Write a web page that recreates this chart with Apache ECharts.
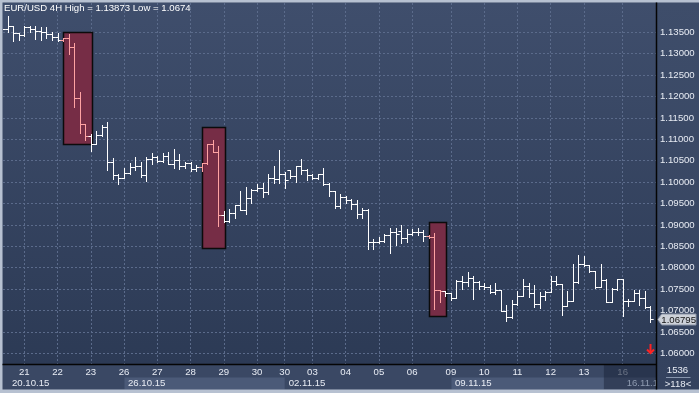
<!DOCTYPE html>
<html>
<head>
<meta charset="utf-8">
<script src="https://cdn.jsdelivr.net/npm/echarts@6/dist/echarts.min.js"></script>
<style>
html,body{margin:0;padding:0;background:#3a4864;}
#c{width:699px;height:393px;}
</style>
</head>
<body>
<div id="c"></div>
<script>
// ---------------- DATA ----------------
const symbol = 'EUR/USD';
const timeframe = '4H';
const opens = [1.13562,1.13578,1.13640,1.13484,1.13438,1.13617,1.13578,1.13539,1.13516,1.13453,
1.13383,1.13321,1.13360,1.13150,1.11958,1.11358,1.11070,1.10890,1.11101,1.11295,
1.10478,1.10166,1.10104,1.10205,1.10361,1.10384,1.10166,1.10532,1.10579,1.10493,
1.10618,1.10431,1.10517,1.10384,1.10447,1.10306,1.10345,1.10439,1.10883,1.10704,
1.09232,1.09091,1.09268,1.09455,1.09353,1.09634,1.09805,1.09852,1.09774,1.10085,
1.10078,1.10195,1.10272,1.10140,1.10374,1.10272,1.10163,1.10101,1.10195,1.09945,
1.09790,1.09439,1.09649,1.09571,1.09494,1.09244,1.09346,1.08606,1.08606,1.08621,
1.08762,1.08839,1.08855,1.08684,1.08777,1.08839,1.08839,1.08730,1.08723,1.07469,
1.07453,1.07400,1.07292,1.07697,1.07658,1.07760,1.07666,1.07565,1.07542,1.07425,
1.07479,1.06997,1.06848,1.07160,1.07347,1.07565,1.07409,1.07160,1.07331,1.07432,
1.07682,1.07619,1.07113,1.07215,1.07666,1.08094,1.08056,1.07915,1.07549,1.07721,
1.07191,1.07503,1.07736,1.07215,1.07215,1.07409,1.07292,1.07082];
const highs = [1.13617,1.13873,1.13640,1.13484,1.13640,1.13640,1.13640,1.13625,1.13625,1.13516,
1.13477,1.13375,1.13453,1.13243,1.12114,1.11358,1.11116,1.11194,1.11334,1.11412,
1.10571,1.10182,1.10322,1.10439,1.10579,1.10478,1.10579,1.10672,1.10618,1.10672,
1.10712,1.10774,1.10649,1.10478,1.10462,1.10400,1.10454,1.10883,1.10984,1.10836,
1.09325,1.09361,1.09455,1.09790,1.09883,1.09828,1.09961,1.09977,1.10179,1.10374,
1.10740,1.10241,1.10272,1.10381,1.10529,1.10296,1.10195,1.10195,1.10319,1.09984,
1.09790,1.09712,1.09673,1.09595,1.09571,1.09400,1.09361,1.08660,1.08715,1.08777,
1.08933,1.08933,1.08995,1.08894,1.08894,1.08933,1.08871,1.08762,1.08816,1.07469,
1.07453,1.07409,1.07705,1.07799,1.07900,1.07799,1.07682,1.07643,1.07604,1.07643,
1.07487,1.07137,1.07253,1.07448,1.07736,1.07643,1.07588,1.07425,1.07448,1.07799,
1.07799,1.07619,1.07448,1.08094,1.08305,1.08266,1.08071,1.07915,1.08094,1.07736,
1.07526,1.07736,1.07736,1.07269,1.07471,1.07471,1.07448,1.07098];
const lows = [1.13539,1.13516,1.13305,1.13329,1.13407,1.13500,1.13344,1.13329,1.13360,1.13329,
1.13290,1.13298,1.12994,1.11748,1.11148,1.10984,1.10727,1.10883,1.11085,1.10283,
1.10065,1.09948,1.10088,1.10189,1.10283,1.10127,1.10026,1.10415,1.10462,1.10462,
1.10415,1.10337,1.10306,1.10322,1.10260,1.10260,1.10260,1.10423,1.10696,1.08967,
1.09076,1.09073,1.09167,1.09353,1.09260,1.09517,1.09790,1.09657,1.09727,1.09984,
1.09984,1.09867,1.10101,1.10008,1.10195,1.10039,1.10062,1.10062,1.09930,1.09673,
1.09400,1.09400,1.09517,1.09361,1.09151,1.09151,1.08427,1.08442,1.08582,1.08606,
1.08349,1.08520,1.08582,1.08606,1.08762,1.08762,1.08621,1.08699,1.07025,1.07204,
1.07336,1.07253,1.07292,1.07510,1.07565,1.07269,1.07510,1.07510,1.07409,1.07386,
1.06981,1.06745,1.06825,1.07137,1.07331,1.07316,1.07082,1.07059,1.07238,1.07432,
1.07604,1.06903,1.07098,1.07215,1.07643,1.08048,1.07892,1.07526,1.07549,1.07191,
1.07191,1.07487,1.06864,1.07113,1.07215,1.07137,1.07059,1.06740];
const closes = [1.13578,1.13640,1.13484,1.13438,1.13617,1.13578,1.13539,1.13516,1.13453,1.13383,
1.13321,1.13360,1.13150,1.11958,1.11358,1.11070,1.10890,1.11101,1.11295,1.10478,
1.10166,1.10104,1.10205,1.10361,1.10384,1.10166,1.10532,1.10579,1.10493,1.10618,
1.10431,1.10517,1.10384,1.10447,1.10306,1.10345,1.10439,1.10883,1.10704,1.09232,
1.09091,1.09268,1.09455,1.09353,1.09634,1.09805,1.09852,1.09774,1.10085,1.10078,
1.10195,1.10039,1.10140,1.10374,1.10272,1.10163,1.10101,1.10195,1.09945,1.09790,
1.09439,1.09649,1.09571,1.09494,1.09244,1.09346,1.08606,1.08606,1.08621,1.08762,
1.08839,1.08793,1.08684,1.08777,1.08839,1.08839,1.08730,1.08723,1.07469,1.07453,
1.07400,1.07292,1.07697,1.07658,1.07760,1.07666,1.07565,1.07542,1.07425,1.07479,
1.06997,1.06848,1.07160,1.07347,1.07565,1.07409,1.07160,1.07331,1.07432,1.07682,
1.07619,1.07113,1.07215,1.07666,1.08094,1.08056,1.07915,1.07549,1.07721,1.07191,
1.07503,1.07736,1.07215,1.07215,1.07409,1.07292,1.07082,1.06795];
const barCount = closes.length; // 118 bars shown (>118<)

// day ticks on the time axis (bar index of the first bar of each day)
const dayTickIndex  = [4,10,16,22,28,34,40,46,51,56,62,68,74,81,87,93,99,105,112];
const dayTickLabels = ['21','22','23','26','27','28','29','30','30','03','04','05','06','09','10','11','12','13','16'];
// week row
const weekStartIndex = [0,22,51,81,112];
const weekLabels = ['20.10.15','26.10.15','02.11.15','09.11.15','16.11.15'];
const currentWeekShadeFrom = 108.6;
// price axis
const priceTickMin = 1.06, priceTickMax = 1.135, priceTickStep = 0.005;
// highlighted zones
const boxStart  = [11, 36, 77];
const boxEnd    = [16, 40, 80];
const boxTop    = [1.13500, 1.11280, 1.09061];
const boxBottom = [1.10883, 1.08453, 1.06878];
const footerCount = '1536';

// ---------------- CHART ----------------
const FONT = '"Liberation Sans", Arial, sans-serif';
const FS = 9.6;
const TXT = '#e8ecf4';
const WHITE = '#ffffff';
const PINK = '#ffa3a3';
const fmtHL = v => String(+v.toFixed(5));
const titleText = symbol + ' ' + timeframe + ' High = ' + fmtHL(Math.max(...highs)) + ' Low = ' + fmtHL(Math.min(...lows));
const inBox = i => boxStart.some((s, k) => i >= s && i < boxEnd[k]);

const ohlcData = closes.map((c, i) => [i, opens[i], highs[i], lows[i], c]);
const boxData = boxStart.map((s, k) => [s, boxEnd[k], boxTop[k], boxBottom[k]]);
const weekData = weekStartIndex.map((s, k) => [s, k < weekStartIndex.length - 1 ? weekStartIndex[k + 1] : barCount - 1, priceTickMin]);
const lastData = [[barCount - 1, closes[barCount - 1]]];

const bgGrad = new echarts.graphic.LinearGradient(0, 0, 0, 1, [
  {offset: 0, color: '#3f4e6c'}, {offset: 1, color: '#2c3a55'}
]);
const panelGrad = new echarts.graphic.LinearGradient(0, 0, 0, 1, [
  {offset: 0, color: '#3e4d6a'}, {offset: 1, color: '#34425e'}
]);

function renderBar(params, api) {
  const i = api.value(0);
  const pO = api.coord([i, api.value(1)]);
  const pH = api.coord([i, api.value(2)]);
  const pL = api.coord([i, api.value(3)]);
  const pC = api.coord([i, api.value(4)]);
  const half = api.size([1, 0])[0] / 2 + 0.4;
  const x = Math.round(pO[0]) + 0.5;
  const yo = Math.round(pO[1]) + 0.5, yc = Math.round(pC[1]) + 0.5;
  const yh = Math.round(pH[1]), yl = Math.round(pL[1]) + 1;
  const st = {stroke: inBox(i) ? PINK : WHITE, lineWidth: 1};
  return {type: 'group', children: [
    {type: 'line', shape: {x1: x, y1: yh, x2: x, y2: yl}, style: st},
    {type: 'line', shape: {x1: x - half, y1: yo, x2: x, y2: yo}, style: st},
    {type: 'line', shape: {x1: x, y1: yc, x2: x + half, y2: yc}, style: st}
  ]};
}

function renderBox(params, api) {
  const p1 = api.coord([api.value(0), api.value(2)]);
  const p2 = api.coord([api.value(1), api.value(3)]);
  const x1 = Math.round(p1[0]) + 0.5, x2 = Math.round(p2[0]) + 1.5;
  const y1 = Math.round(p1[1]) + 0.5, y2 = Math.round(p2[1]) + 0.5;
  return {type: 'rect', shape: {x: x1, y: y1, width: x2 - x1, height: y2 - y1},
    style: {fill: '#762d46', stroke: '#0b0b0b', lineWidth: 1.5}};
}

function renderWeek(params, api) {
  const cs = params.coordSys;
  const k = params.dataIndex;
  const last = k === weekStartIndex.length - 1;
  const xs = api.coord([api.value(0), api.value(2)])[0];
  const xe = (k === weekStartIndex.length - 2 || last) ? cs.x + cs.width : api.coord([api.value(1), api.value(2)])[0];
  const base = cs.y + cs.height;
  const children = [];
  if (k % 2 === 1) {
    children.push({type: 'rect', shape: {x: Math.round(xs) + 0.5, y: base + 13.5, width: xe - Math.round(xs) - 0.5, height: 12},
      style: {fill: '#4b5a78'}});
  }
  if (last) {
    const xsh = api.coord([currentWeekShadeFrom, api.value(2)])[0];
    children.push({type: 'rect', shape: {x: xsh, y: base + 1, width: cs.x + cs.width - xsh, height: 24.5},
      style: {fill: 'rgba(22,32,52,0.45)'}});
  }
  children.push({type: 'text', style: {
    text: weekLabels[k], x: Math.max(xs + 4, cs.x + 9), y: base + 19.8,
    verticalAlign: 'middle', align: 'left', fill: last ? '#8e9ab0' : TXT, font: FS + 'px ' + FONT
  }});
  return {type: 'group', children};
}

function renderLast(params, api) {
  const cs = params.coordSys;
  const p = api.coord([api.value(0), api.value(1)]);
  const xl = cs.x + cs.width + 1.7;
  const y = Math.round(p[1]) + 0.5;
  return {type: 'group', children: [
    {type: 'polygon', shape: {points: [[xl, y], [xl + 4, y - 5.5], [xl + 38.3, y - 5.5], [xl + 38.3, y + 5.5], [xl + 4, y + 5.5]]},
      style: {fill: '#cdd1d9', stroke: '#8a93a5', lineWidth: 1}},
    {type: 'text', style: {text: api.value(1).toFixed(5), x: xl + 21, y: y + 0.5, align: 'center', verticalAlign: 'middle',
      fill: '#141414', font: FS + 'px ' + FONT}}
  ]};
}

const chart = echarts.init(document.getElementById('c'), null, {renderer: 'canvas'});
chart.setOption({
  animation: false,
  backgroundColor: '#3a4864',
  title: {
    text: titleText, left: 4, top: 3.3, padding: 0,
    textStyle: {color: '#ffffff', fontSize: FS, fontWeight: 'normal', fontFamily: FONT}
  },
  grid: [
    {left: 3, right: 43, top: 3, bottom: 29, show: true, backgroundColor: bgGrad, borderWidth: 0, outerBoundsMode: 'none', containLabel: false},
    {left: 3, right: 43, top: 32.3, bottom: 39.7, show: false, outerBoundsMode: 'none', containLabel: false}
  ],
  xAxis: [
    {
      type: 'value', gridIndex: 0, min: 0.16, max: 118.01,
      axisLine: {show: false},
      axisTick: {show: false, customValues: dayTickIndex},
      axisLabel: {
        customValues: dayTickIndex, margin: 3.7, fontSize: FS, fontFamily: FONT,
        formatter: v => dayTickLabels[dayTickIndex.indexOf(v)],
        color: v => (v >= currentWeekShadeFrom ? '#aab3c4' : TXT)
      },
      splitLine: {show: true, lineStyle: {color: '#5b6b8b', width: 1, type: [2, 2]}}
    },
    {type: 'value', gridIndex: 1, min: 0, max: 1, show: false}
  ],
  yAxis: [
    {type: 'value', gridIndex: 0, min: 1.0575, max: 1.14185, show: false},
    {
      type: 'value', gridIndex: 1, position: 'left', min: priceTickMin, max: priceTickMax, interval: priceTickStep,
      axisLine: {show: false}, axisTick: {show: false}, axisLabel: {show: false},
      splitLine: {show: true, lineStyle: {color: '#5b6b8b', width: 1, type: [2, 2]}}
    },
    {
      type: 'value', gridIndex: 1, position: 'right', min: priceTickMin, max: priceTickMax, interval: priceTickStep, z: 5,
      axisLine: {show: false}, axisTick: {show: false}, splitLine: {show: false},
      axisLabel: {margin: 4, fontSize: FS, fontFamily: FONT, color: TXT, formatter: v => v.toFixed(5)}
    }
  ],
  series: [
    {type: 'custom', name: 'zones', xAxisIndex: 0, yAxisIndex: 0, z: 1.2, clip: true,
      data: boxData, encode: {x: [0, 1], y: [2, 3]}, renderItem: renderBox},
    {type: 'custom', name: 'weeks', xAxisIndex: 0, yAxisIndex: 0, z: 1, clip: false,
      data: weekData, encode: {x: [0, 1], y: 2}, renderItem: renderWeek},
    {type: 'custom', name: 'EUR/USD', xAxisIndex: 0, yAxisIndex: 0, z: 2, clip: true,
      data: ohlcData, encode: {x: 0, y: [1, 2, 3, 4]}, renderItem: renderBar},
    {type: 'custom', name: 'last', xAxisIndex: 0, yAxisIndex: 0, z: 6, clip: false,
      data: lastData, encode: {x: 0, y: 1}, renderItem: renderLast}
  ],
  graphic: [
    {type: 'rect', z: 1.5, shape: {x: 657, y: 2.5, width: 42, height: 387}, style: {fill: panelGrad}},
    {type: 'rect', z: 7, shape: {x: 0, y: 0, width: 2.5, height: 393}, style: {fill: '#b7c1d1'}},
    {type: 'rect', z: 7, shape: {x: 0, y: 0, width: 699, height: 2.5}, style: {fill: '#b7c1d1'}},
    {type: 'rect', z: 7, shape: {x: 0, y: 389.5, width: 699, height: 3.5}, style: {fill: '#b7c1d1'}},
    {type: 'line', z: 7, shape: {x1: 656.5, y1: 2.5, x2: 656.5, y2: 389.5}, style: {stroke: '#050505', lineWidth: 1.5}},
    {type: 'line', z: 7, shape: {x1: 2.5, y1: 364.5, x2: 656.5, y2: 364.5}, style: {stroke: '#050505', lineWidth: 1.5}},
    {type: 'text', z: 7, style: {text: footerCount, x: 677.5, y: 370.5, align: 'center', verticalAlign: 'middle', fill: TXT, font: FS + 'px ' + FONT}},
    {type: 'line', z: 7, shape: {x1: 666, y1: 377.5, x2: 690.5, y2: 377.5}, style: {stroke: '#8795ad', lineWidth: 1}},
    {type: 'text', z: 7, style: {text: '>' + barCount + '<', x: 678, y: 384.5, align: 'center', verticalAlign: 'middle', fill: TXT, font: FS + 'px ' + FONT}},
    {type: 'polyline', z: 7, shape: {points: [[650.5, 344], [650.5, 353]]}, style: {stroke: '#ff2222', lineWidth: 2}},
    {type: 'polyline', z: 7, shape: {points: [[647, 349.5], [650.5, 353], [654, 349.5]]}, style: {stroke: '#ff2222', lineWidth: 2, fill: null}}
  ]
});
</script>
</body>
</html>
